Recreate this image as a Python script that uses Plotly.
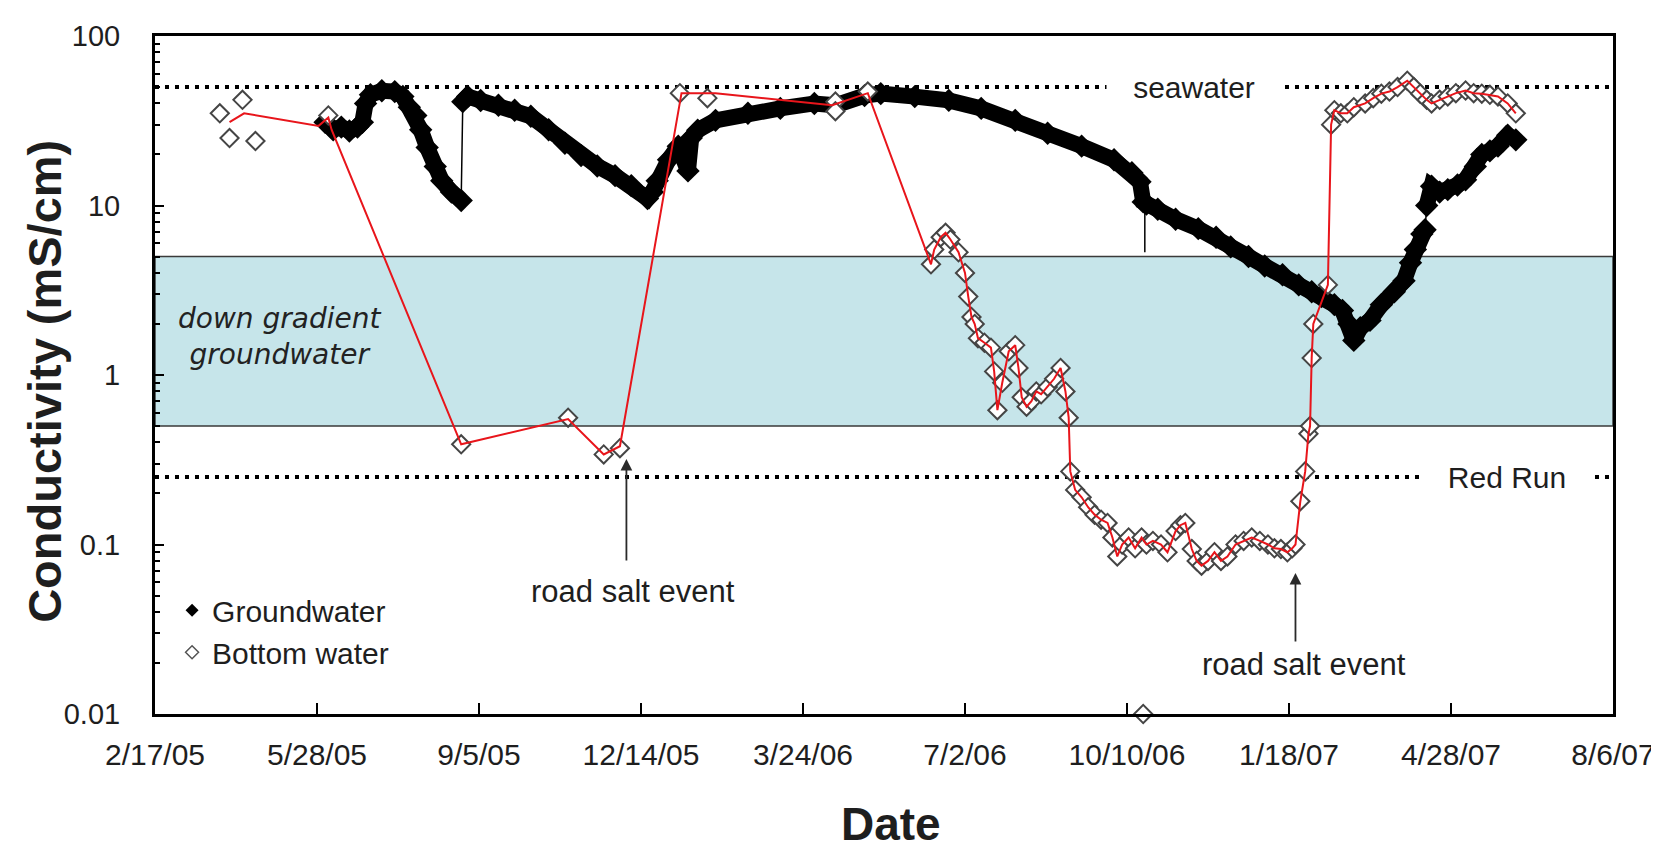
import math
import plotly.graph_objects as go

# ---------------- axis ticks ----------------
x_tick_vals = ['2005-02-17', '2005-05-28', '2005-09-05', '2005-12-14', '2006-03-24',
               '2006-07-02', '2006-10-10', '2007-01-18', '2007-04-28', '2007-08-06']
x_tick_text = ['2/17/05', '5/28/05', '9/5/05', '12/14/05', '3/24/06',
               '7/2/06', '10/10/06', '1/18/07', '4/28/07', '8/6/07']
y_tick_vals = [0.01, 0.1, 1, 10, 100]
y_tick_text = ['0.01', '0.1', '1', '10', '100']

# ---------------- reference levels (mS/cm) ----------------
SEAWATER = 50
RED_RUN = 0.25
DOWN_GRADIENT_LOW = 0.5
DOWN_GRADIENT_HIGH = 5

# ---------------- groundwater ----------------
gw_dates = ['2005-06-02', '2005-06-07', '2005-06-12', '2005-06-17', '2005-06-22', '2005-06-25',
            '2005-06-27', '2005-06-30', '2005-07-07', '2005-07-15', '2005-07-20', '2005-07-24',
            '2005-07-28', '2005-07-31', '2005-08-04', '2005-08-09', '2005-08-13', '2005-08-19',
            '2005-08-25',
            '2005-08-26', '2005-08-29', '2005-09-06', '2005-09-17', '2005-09-27', '2005-10-07',
            '2005-10-18', '2005-10-28', '2005-11-07', '2005-11-17', '2005-11-28', '2005-12-08',
            '2005-12-18', '2005-12-21', '2005-12-24', '2005-12-31', '2006-01-06', '2006-01-10',
            '2006-01-12', '2006-01-14', '2006-01-18', '2006-01-29', '2006-02-18', '2006-03-10',
            '2006-03-31', '2006-04-13', '2006-05-01', '2006-05-11', '2006-06-01', '2006-06-22',
            '2006-07-12', '2006-08-02', '2006-08-22', '2006-09-12', '2006-10-02', '2006-10-13',
            '2006-10-18', '2006-10-20', '2006-10-22', '2006-10-29', '2006-11-09', '2006-11-23',
            '2006-12-04', '2006-12-13', '2006-12-24', '2007-01-03', '2007-01-14', '2007-01-24',
            '2007-02-01', '2007-02-07', '2007-02-15', '2007-02-20', '2007-02-24', '2007-02-27',
            '2007-03-03', '2007-03-09', '2007-03-16', '2007-03-24', '2007-03-30', '2007-04-03',
            '2007-04-06', '2007-04-10', '2007-04-12',
            '2007-04-13', '2007-04-16', '2007-04-21', '2007-04-26', '2007-05-02', '2007-05-07',
            '2007-05-13', '2007-05-17', '2007-05-22', '2007-05-27', '2007-06-02', '2007-06-07']
gw_vals = [31, 28, 29, 27.5, 29, 31,
           40, 45, 47.5, 47, 44, 38,
           34, 28, 22, 17, 14, 12,
           10.7,
           41, 44, 41.6, 39, 36.5, 33.6,
           28, 23.3, 19.7, 17.1, 15, 13.1,
           11, 12, 14, 18.6, 22.4, 19,
           16, 25, 27.8, 31.8, 35, 37.4,
           40, 39, 44.5, 45.7, 43.9, 41.7,
           37.4, 31.8, 26.7, 22.4, 18.6, 15.6,
           13.8, 10.5, 10.2, 9.5, 8.3, 7.3,
           6.5, 5.7, 5.0, 4.4, 3.9, 3.4,
           3.1, 2.9, 2.6, 2.4, 2.0, 1.6,
           1.9, 2.1, 2.6, 3.1, 3.6, 4.6,
           5.5, 6.8, 7.2,
           10, 13, 12, 12.4, 13.2, 14.2,
           17, 20, 21, 22.4, 26, 24.4]
# dates where the logger record restarts (joined only by a thin line)
gw_breaks = ['2005-08-26', '2007-04-13']
# single low reading drawn as a thin spike
gw_spike_dates = ['2006-10-21', '2006-10-21']
gw_spike_vals = [10.5, 5.3]

# ---------------- bottom water ----------------
bw_sparse_dates = ['2005-03-29', '2005-04-04', '2005-04-12', '2005-04-20', '2005-06-04',
                   '2005-08-25', '2005-10-30', '2005-11-21', '2005-12-01', '2006-01-07',
                   '2006-01-24', '2006-04-13', '2006-04-13', '2006-05-03']
bw_sparse_vals = [35, 25, 42, 24, 34,
                  0.39, 0.56, 0.34, 0.37, 46,
                  43, 41, 36, 47]

bw_dense_dates = ['2006-06-11', '2006-06-13', '2006-06-17', '2006-06-20', '2006-06-23', '2006-06-28',
                  '2006-07-02', '2006-07-04', '2006-07-06', '2006-07-08', '2006-07-10', '2006-07-14',
                  '2006-07-18', '2006-07-20', '2006-07-22', '2006-07-25', '2006-07-29', '2006-08-02',
                  '2006-08-04', '2006-08-06', '2006-08-09', '2006-08-12', '2006-08-15', '2006-08-18',
                  '2006-08-22', '2006-08-26', '2006-08-30', '2006-09-02', '2006-09-04', '2006-09-05',
                  '2006-09-08', '2006-09-12', '2006-09-16', '2006-09-20', '2006-09-24', '2006-09-28',
                  '2006-10-01', '2006-10-04', '2006-10-07', '2006-10-11', '2006-10-15', '2006-10-19',
                  '2006-10-22', '2006-10-26', '2006-10-31', '2006-11-04', '2006-11-09', '2006-11-12',
                  '2006-11-15', '2006-11-19', '2006-11-22', '2006-11-25', '2006-11-29', '2006-12-03',
                  '2006-12-07', '2006-12-11', '2006-12-16', '2006-12-21', '2006-12-26', '2006-12-31',
                  '2007-01-05', '2007-01-09', '2007-01-13', '2007-01-17', '2007-01-20', '2007-01-22',
                  '2007-01-25', '2007-01-28', '2007-01-30', '2007-01-31', '2007-02-01', '2007-02-02',
                  '2007-02-11', '2007-02-13', '2007-02-15', '2007-02-19', '2007-02-23', '2007-02-27',
                  '2007-03-06', '2007-03-11', '2007-03-16', '2007-03-21', '2007-03-26', '2007-04-01',
                  '2007-04-05', '2007-04-09', '2007-04-13', '2007-04-16', '2007-04-21', '2007-04-26',
                  '2007-05-01', '2007-05-07', '2007-05-12', '2007-05-17', '2007-05-22', '2007-05-27',
                  '2007-06-02', '2007-06-07']
bw_dense_vals = [4.5, 5.5, 6.5, 6.9, 6.3, 5.3,
                 4.0, 2.9, 2.2, 2.0, 1.65, 1.55,
                 1.45, 1.05, 0.62, 0.9, 1.38, 1.5,
                 1.1, 0.74, 0.65, 0.7, 0.8, 0.77,
                 0.85, 0.95, 1.1, 0.8, 0.56, 0.27,
                 0.21, 0.19, 0.166, 0.15, 0.14, 0.134,
                 0.11, 0.085, 0.1, 0.11, 0.095, 0.11,
                 0.1, 0.105, 0.1, 0.09, 0.12, 0.13,
                 0.134, 0.094, 0.08, 0.075, 0.08, 0.09,
                 0.08, 0.085, 0.1, 0.105, 0.11, 0.105,
                 0.1, 0.095, 0.094, 0.09, 0.095, 0.1,
                 0.18, 0.27, 0.45, 0.5, 1.26, 2.0,
                 3.4, 30, 36.5, 35, 35, 38,
                 40, 43, 45.7, 47, 50, 54.5,
                 50, 45.7, 42, 40, 42, 44,
                 46, 47.7, 46, 45.7, 45, 44,
                 40, 35]
bw_outlier_dates = ['2006-10-20']
bw_outlier_vals = [0.01]

# red line through the bottom-water record (early part joins the sample means)
red_sparse_dates = ['2005-04-04', '2005-04-13', '2005-05-29', '2005-06-04', '2005-06-06',
                    '2005-08-25', '2005-10-30', '2005-11-21', '2005-12-01', '2006-01-08',
                    '2006-01-29', '2006-02-28', '2006-04-11', '2006-05-03']
red_sparse_vals = [31, 35, 29.5, 33, 28,
                   0.39, 0.55, 0.34, 0.38, 46,
                   46, 43, 39, 46]

# annotations: (arrow date, arrow tip value, label date, label value, arrow length px)
salt_events = [
    ('2005-12-05', 0.32, '2005-12-09', 0.053, 103),
    ('2007-01-22', 0.068, '2007-01-27', 0.0196, 70),
]

FONT = 'Liberation Sans, Arial, sans-serif'
TXT = '#1e1e1e'

fig = go.Figure()

# groundwater: thin connector through whole record
fig.add_trace(go.Scatter(x=gw_dates, y=gw_vals, mode='lines',
                         line=dict(color='black', width=1.5), showlegend=False, hoverinfo='skip'))
fig.add_trace(go.Scatter(x=gw_spike_dates, y=gw_spike_vals, mode='lines',
                         line=dict(color='black', width=1.5), showlegend=False, hoverinfo='skip'))
# groundwater: dense band of filled diamonds
gx, gy = [], []
for d, v in zip(gw_dates, gw_vals):
    if d in gw_breaks:
        gx.append(None)
        gy.append(None)
    gx.append(d)
    gy.append(v)
fig.add_trace(go.Scatter(x=gx, y=gy, mode='lines+markers',
                         line=dict(color='black', width=16),
                         marker=dict(symbol='diamond', size=18, color='black'),
                         showlegend=False, hoverinfo='skip'))

# bottom water markers
bw_x = bw_sparse_dates + bw_dense_dates + bw_outlier_dates
bw_y = bw_sparse_vals + bw_dense_vals + bw_outlier_vals
fig.add_trace(go.Scatter(x=bw_x, y=bw_y, mode='markers', cliponaxis=False,
                         marker=dict(symbol='diamond', size=14, color='white',
                                     line=dict(color='#454545', width=2)),
                         showlegend=False, hoverinfo='skip'))
# red line
fig.add_trace(go.Scatter(x=red_sparse_dates + bw_dense_dates, y=red_sparse_vals + bw_dense_vals,
                         mode='lines', line=dict(color='#e8151b', width=2),
                         showlegend=False, hoverinfo='skip'))

# legend entries
fig.add_trace(go.Scatter(x=[None], y=[None], mode='markers', name='Groundwater',
                         marker=dict(symbol='diamond', size=10, color='black')))
fig.add_trace(go.Scatter(x=[None], y=[None], mode='markers', name='Bottom water',
                         marker=dict(symbol='diamond', size=10, color='white',
                                     line=dict(color='#555555', width=1.5))))

# shapes on a log axis take data values directly here
shapes = [
    dict(type='rect', xref='paper', x0=0, x1=1, yref='y',
         y0=DOWN_GRADIENT_LOW, y1=DOWN_GRADIENT_HIGH,
         fillcolor='#c6e5ea', line=dict(color='#3a3a3a', width=1.5), layer='below'),
    dict(type='line', xref='paper', x0=0, x1=1, yref='y',
         y0=SEAWATER, y1=SEAWATER,
         line=dict(color='black', width=4, dash='4px,6px'), layer='below'),
    dict(type='line', xref='paper', x0=0, x1=1, yref='y',
         y0=RED_RUN, y1=RED_RUN,
         line=dict(color='black', width=4, dash='4px,6px'), layer='below'),
]

annotations = [
    dict(text='seawater', xref='paper', x=0.7126, yref='y', y=math.log10(SEAWATER),
         xanchor='center', yanchor='middle',
         showarrow=False, bgcolor='white', width=172, height=32,
         font=dict(family=FONT, size=30, color=TXT)),
    dict(text='Red Run', xref='paper', x=0.9273, yref='y', y=math.log10(RED_RUN),
         xanchor='center', yanchor='middle',
         showarrow=False, bgcolor='white', width=172, height=32,
         font=dict(family=FONT, size=30, color=TXT)),
    dict(text='<i>down gradient<br>groundwater</i>', xref='paper', x=0.0857, yref='y', y=0.225,
         xanchor='center', yanchor='middle',
         showarrow=False, align='center',
         font=dict(family='DejaVu Sans, sans-serif', size=28, color='#222222')),
    dict(text='<b>Conductivity (mS/cm)</b>', xref='paper', x=-0.0754, yref='paper', y=0.49,
         textangle=-90, showarrow=False, xanchor='center', yanchor='middle',
         font=dict(family=FONT, size=47, color=TXT)),
    dict(text='<b>Date</b>', xref='paper', x=0.5048, yref='paper', y=-0.162,
         showarrow=False, xanchor='center', yanchor='middle',
         font=dict(family=FONT, size=46, color=TXT)),
]
for ad, av, ld, lv, alen in salt_events:
    annotations.append(dict(text='', x=ad, y=math.log10(av), xref='x', yref='y',
                            showarrow=True, ax=0, ay=alen, axref='pixel', ayref='pixel',
                            arrowhead=2, arrowsize=1.3, arrowwidth=1.8, arrowcolor='#2a2a2a'))
    annotations.append(dict(text='road salt event', x=ld, y=math.log10(lv), xref='x', yref='y',
                            xanchor='center', showarrow=False,
                            font=dict(family=FONT, size=31, color=TXT)))

fig.update_layout(
    width=1659, height=847,
    margin=dict(l=147, r=54, t=22, b=141),
    paper_bgcolor='white', plot_bgcolor='white',
    shapes=shapes, annotations=annotations,
    legend=dict(x=0.0117, y=0.122, xanchor='left', yanchor='middle',
                bgcolor='rgba(0,0,0,0)', font=dict(family=FONT, size=30, color=TXT),
                tracegroupgap=0, itemsizing='trace'),
    xaxis=dict(type='date', range=['2005-02-17', '2007-08-06'],
               tickvals=x_tick_vals, ticktext=x_tick_text,
               ticks='inside', ticklen=11, tickwidth=2, tickcolor='black',
               showline=True, linewidth=3, linecolor='black', mirror=True,
               showgrid=False, zeroline=False, ticklabelstandoff=12,
               tickfont=dict(family=FONT, size=30, color=TXT)),
    yaxis=dict(type='log', range=[-2, 2],
               tickvals=y_tick_vals, ticktext=y_tick_text,
               ticks='inside', ticklen=9, tickwidth=2, tickcolor='black',
               minor=dict(ticks='inside', ticklen=5, tickwidth=1.5, tickcolor='black',
                          tickvals=[k * 10 ** e for e in range(-2, 2) for k in range(2, 10)],
                          showgrid=False),
               showline=True, linewidth=3, linecolor='black', mirror=True,
               showgrid=False, zeroline=False, ticklabelstandoff=26,
               tickfont=dict(family=FONT, size=29, color=TXT)),
)

fig.write_html('out.html')
